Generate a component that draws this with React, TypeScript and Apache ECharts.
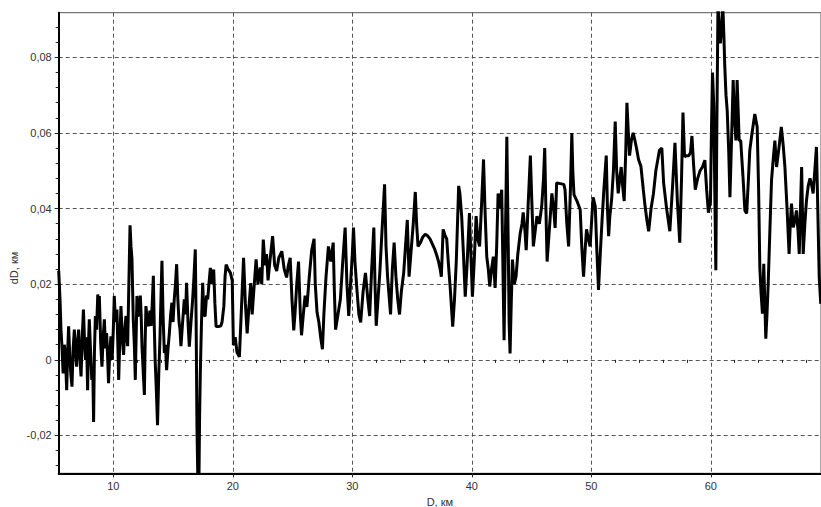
import React, { useEffect, useRef } from "react";
import * as echarts from "echarts";

// [D (km), dD (km)], segment by segment
const seg05to12: number[][] = [
  [5.43, 0.0236], [5.54, 0.016], [5.62, 0.008], [5.7, 0.0036], [5.8, -0.0036], [5.9, 0.004], [5.98, 0.0018],
  [6.1, -0.008], [6.18, 0.002], [6.26, 0.0089], [6.37, 0], [6.45, -0.004], [6.54, -0.0071], [6.64, 0.003],
  [6.74, 0.008], [6.83, 0.002], [6.93, -0.0018], [7.02, 0.005], [7.1, 0.008], [7.2, 0.001], [7.3, -0.0044],
  [7.4, 0.006], [7.5, 0.0133], [7.6, 0.004], [7.68, 0.0], [7.76, 0.006], [7.85, -0.008], [7.92, 0.004],
  [7.99, 0.0107], [8.1, 0.002], [8.2, -0.0053], [8.28, -0.002], [8.35, -0.0164], [8.42, 0.002], [8.5, 0.0116],
  [8.6, 0.008], [8.7, 0.0173], [8.77, 0.012], [8.83, 0.0169], [8.95, 0.004], [9.05, -0.0018], [9.15, 0.006],
  [9.25, 0.0107], [9.35, 0.003], [9.44, 0.0071], [9.52, 0.001], [9.6, -0.0062], [9.7, 0.002], [9.8, 0.0062],
  [9.9, 0.0], [10.0, 0.008], [10.08, 0.0169], [10.18, 0.01], [10.3, 0.0133], [10.38, 0.004], [10.45, -0.0053],
  [10.55, 0.006], [10.64, 0.0142], [10.75, 0.006], [10.86, 0.0013], [10.96, 0.008], [11.06, 0.0116],
  [11.14, 0.006], [11.2, 0.0036], [11.3, 0.02], [11.4, 0.0356], [11.48, 0.03], [11.56, 0.0267], [11.62, 0.018],
  [11.67, 0.0107], [11.76, 0.004], [11.84, -0.0053], [11.92, 0.008], [11.98, 0.0169], [12.08, 0.012],
  [12.18, 0.0116], [12.26, 0.017], [12.33, 0.012], [12.4, 0.0036],
];
const seg12to20: number[][] = [
  [12.5, -0.003], [12.6, -0.0093], [12.66, 0.004], [12.73, 0.0142], [12.85, 0.01], [12.96, 0.0089],
  [13.06, 0.013], [13.16, 0.009], [13.26, 0.015], [13.35, 0.0222], [13.42, 0.01], [13.5, 0], [13.6, -0.008],
  [13.7, -0.0173], [13.8, -0.004], [13.9, 0.0053], [14.0, 0.018], [14.07, 0.0262], [14.16, 0.012],
  [14.27, 0.0018], [14.36, 0.004], [14.46, -0.0027], [14.58, 0.003], [14.69, 0.0071], [14.8, 0.012],
  [14.9, 0.0151], [15.0, 0.01], [15.1, 0.016], [15.2, 0.02], [15.3, 0.0253], [15.4, 0.016], [15.5, 0.01],
  [15.58, 0.008], [15.66, 0.0036], [15.8, 0.01], [15.94, 0.016], [16.05, 0.012], [16.13, 0.0204],
  [16.25, 0.01], [16.36, 0.0035], [16.5, 0.01], [16.64, 0.016], [16.75, 0.022], [16.86, 0.0292],
  [16.93, 0.01], [17.0, -0.0177], [17.08, -0.033], [17.16, -0.034], [17.22, -0.015], [17.28, -0.0035],
  [17.38, 0.01], [17.48, 0.0204], [17.58, 0.012], [17.68, 0.0115], [17.8, 0.017], [17.9, 0.016], [18.0, 0.02],
  [18.12, 0.0243], [18.25, 0.02], [18.4, 0.0239], [18.5, 0.015], [18.6, 0.0088], [18.8, 0.0088], [19.0, 0.009],
  [19.1, 0.01], [19.25, 0.0142], [19.35, 0.022], [19.44, 0.0252], [19.6, 0.024], [19.8, 0.023], [19.95, 0.021],
];
const seg20to30: number[][] = [
  [20.05, 0.0039], [20.2, 0.006], [20.35, 0.002], [20.55, 0.0008], [20.7, 0.012], [20.9, 0.027], [21.05, 0.015],
  [21.2, 0.007], [21.35, 0.014], [21.5, 0.0203], [21.62, 0.012], [21.75, 0.018], [21.95, 0.0266], [22.1, 0.02],
  [22.3, 0.0244], [22.42, 0.02], [22.55, 0.0318], [22.7, 0.025], [22.82, 0.028], [22.95, 0.021], [23.1, 0.026],
  [23.33, 0.0327], [23.5, 0.025], [23.67, 0.0235], [23.85, 0.027], [24.1, 0.0287], [24.3, 0.024], [24.5, 0.0218],
  [24.65, 0.025], [24.8, 0.027], [24.95, 0.016], [25.1, 0.0078], [25.2, 0.012], [25.35, 0.02], [25.5, 0.026],
  [25.65, 0.012], [25.75, 0.0065], [25.9, 0.012], [26.05, 0.017], [26.2, 0.014], [26.4, 0.022], [26.6, 0.029],
  [26.8, 0.032], [26.9, 0.02], [27.05, 0.0125], [27.2, 0.01], [27.35, 0.006], [27.5, 0.0028], [27.62, 0.012],
  [27.8, 0.022], [28.0, 0.03], [28.2, 0.026], [28.4, 0.031], [28.5, 0.018], [28.6, 0.008], [28.8, 0.012],
  [29.0, 0.016], [29.2, 0.026], [29.4, 0.035], [29.55, 0.02], [29.7, 0.0116], [29.85, 0.02],
];
const seg30to40: number[][] = [
  [30.0, 0.028], [30.1, 0.035], [30.22, 0.026], [30.4, 0.018], [30.55, 0.012], [30.7, 0.0099], [30.9, 0.018],
  [31.1, 0.023], [31.3, 0.016], [31.45, 0.0116], [31.62, 0.024], [31.8, 0.035], [31.9, 0.02], [32.0, 0.009],
  [32.15, 0.016], [32.3, 0.023], [32.5, 0.035], [32.7, 0.0464], [32.82, 0.03], [32.95, 0.022], [33.05, 0.018],
  [33.2, 0.012], [33.35, 0.024], [33.5, 0.031], [33.65, 0.022], [33.8, 0.016], [33.95, 0.012], [34.1, 0.018],
  [34.3, 0.023], [34.45, 0.03], [34.6, 0.037], [34.75, 0.022], [34.9, 0.028], [35.1, 0.036], [35.27, 0.0444],
  [35.38, 0.036], [35.5, 0.03], [35.7, 0.031], [35.9, 0.0325], [36.1, 0.0332], [36.3, 0.0328], [36.5, 0.032],
  [36.7, 0.0306], [36.9, 0.0292], [37.05, 0.0278], [37.2, 0.0262], [37.35, 0.024], [37.45, 0.022],
  [37.6, 0.0345], [37.75, 0.033], [37.9, 0.032], [38.05, 0.025], [38.2, 0.0187], [38.4, 0.0088],
  [38.55, 0.016], [38.7, 0.026], [38.9, 0.046], [39.0, 0.044], [39.15, 0.038], [39.3, 0.028], [39.45, 0.0167],
  [39.6, 0.025], [39.8, 0.0388], [39.92, 0.028],
];
const seg40to50: number[][] = [
  [40.05, 0.0167], [40.2, 0.026], [40.36, 0.038], [40.5, 0.032], [40.65, 0.03], [40.8, 0.04], [40.98, 0.053],
  [41.1, 0.04], [41.25, 0.0273], [41.38, 0.024], [41.5, 0.0194], [41.65, 0.024], [41.8, 0.0273], [41.95, 0.019],
  [42.08, 0.03], [42.2, 0.044], [42.35, 0.04], [42.5, 0.045], [42.6, 0.025], [42.7, 0.0052], [42.8, 0.03],
  [42.93, 0.059], [43.05, 0.03], [43.12, 0.01], [43.2, 0.0017], [43.3, 0.015], [43.4, 0.0265], [43.55, 0.02],
  [43.7, 0.022], [43.85, 0.028], [44.05, 0.0335], [44.2, 0.036], [44.3, 0.039], [44.45, 0.034], [44.55, 0.029],
  [44.7, 0.04], [44.9, 0.054], [45.02, 0.042], [45.15, 0.03], [45.3, 0.034], [45.45, 0.038], [45.65, 0.036],
  [45.85, 0.0406], [46.0, 0.048], [46.1, 0.056], [46.2, 0.04], [46.3, 0.026], [46.5, 0.035], [46.7, 0.044],
  [46.85, 0.04], [46.97, 0.0349], [47.1, 0.0468], [47.4, 0.0466], [47.7, 0.0464], [47.8, 0.045], [47.95, 0.036],
  [48.1, 0.03], [48.25, 0.045], [48.37, 0.06], [48.45, 0.05], [48.55, 0.0437], [48.8, 0.042], [49.07, 0.0397],
  [49.2, 0.03], [49.35, 0.022], [49.5, 0.03], [49.6, 0.0345], [49.75, 0.032], [49.9, 0.03],
];
const seg50to60: number[][] = [
  [50.05, 0.038], [50.15, 0.043], [50.33, 0.0406], [50.45, 0.03], [50.6, 0.0185], [50.75, 0.028], [50.9, 0.037],
  [51.05, 0.045], [51.25, 0.054], [51.35, 0.04], [51.45, 0.0327], [51.55, 0.038], [51.7, 0.0424], [51.85, 0.05],
  [52.0, 0.063], [52.12, 0.05], [52.25, 0.044], [52.38, 0.048], [52.5, 0.051], [52.62, 0.046], [52.75, 0.042],
  [52.88, 0.055], [52.98, 0.068], [53.1, 0.06], [53.2, 0.054], [53.35, 0.058], [53.5, 0.06], [53.65, 0.058],
  [53.8, 0.0557], [53.95, 0.053], [54.15, 0.0512], [54.35, 0.045], [54.5, 0.0406], [54.65, 0.037], [54.8, 0.034],
  [55.0, 0.04], [55.2, 0.044], [55.4, 0.05], [55.7, 0.0554], [55.9, 0.056], [56.05, 0.0468], [56.3, 0.04],
  [56.57, 0.034], [56.8, 0.046], [57.0, 0.0574], [57.2, 0.042], [57.4, 0.031], [57.55, 0.048], [57.67, 0.0654],
  [57.8, 0.0537], [57.95, 0.054], [58.15, 0.054], [58.3, 0.0548], [58.42, 0.0592], [58.55, 0.052], [58.7, 0.045],
  [58.9, 0.048], [59.1, 0.05], [59.3, 0.051], [59.5, 0.0528], [59.65, 0.045], [59.8, 0.0389], [59.97, 0.042],
];
const seg60to69: number[][] = [
  [60.05, 0.06], [60.14, 0.076], [60.25, 0.067], [60.33, 0.045], [60.42, 0.0237], [60.5, 0.06], [60.6, 0.094],
  [60.7, 0.088], [60.8, 0.0837], [60.9, 0.088], [61.0, 0.094], [61.1, 0.085], [61.17, 0.0775], [61.27, 0.07],
  [61.37, 0.066], [61.5, 0.055], [61.6, 0.043], [61.75, 0.06], [61.87, 0.074], [61.97, 0.065], [62.1, 0.058],
  [62.2, 0.074], [62.3, 0.065], [62.37, 0.058], [62.5, 0.058], [62.7, 0.048], [62.85, 0.0395], [63.0, 0.0387],
  [63.15, 0.048], [63.26, 0.0554], [63.45, 0.06], [63.68, 0.065], [63.88, 0.0616], [64.0, 0.045], [64.1, 0.0245],
  [64.2, 0.018], [64.32, 0.0122], [64.43, 0.0254], [64.52, 0.015], [64.6, 0.0056], [64.7, 0.012], [64.8, 0.02],
  [64.95, 0.035], [65.08, 0.0475], [65.22, 0.053], [65.36, 0.058], [65.5, 0.051], [65.7, 0.056], [65.9, 0.0616],
  [66.05, 0.057], [66.2, 0.051], [66.38, 0.04], [66.55, 0.028], [66.65, 0.036], [66.75, 0.0413], [66.9, 0.035],
  [67.05, 0.037], [67.17, 0.0395], [67.3, 0.034], [67.4, 0.028], [67.5, 0.04], [67.6, 0.051], [67.73, 0.028],
  [67.87, 0.036], [68.0, 0.042], [68.15, 0.046], [68.3, 0.048], [68.45, 0.046], [68.56, 0.044], [68.7, 0.05],
  [68.84, 0.0563], [68.95, 0.04], [69.07, 0.0219], [69.2, 0.0148],
];

const xMajorTicks = [10, 20, 30, 40, 50, 60];
const xMinorTicks = [6, 8, 12, 14, 16, 18, 22, 24, 26, 28, 32, 34, 36, 38, 42, 44, 46, 48, 52, 54, 56, 58, 62, 64, 66, 68];
const yMajorTicks = [-0.02, 0, 0.02, 0.04, 0.06, 0.08];
const yMinorTicks = [
  -0.028, -0.024, -0.016, -0.012, -0.008, -0.004, 0.004, 0.008, 0.012, 0.016, 0.024, 0.028, 0.032, 0.036,
  0.044, 0.048, 0.052, 0.056, 0.064, 0.068, 0.072, 0.076, 0.084, 0.088,
];

const X_MIN = 5.43;
const X_MAX = 69.22;
const Y_MIN = -0.03;
const Y_MAX = 0.0918;

const fmtY = (v: number) => {
  const r = Math.round(v * 100) / 100;
  return r === 0 ? "0" : String(r).replace(".", ",");
};

export default function App() {
  const ref = useRef<HTMLDivElement>(null);
  useEffect(() => {
    if (!ref.current) return;
    const chart = echarts.init(ref.current, null, { renderer: "svg" });
    const profile = [...seg05to12, ...seg12to20, ...seg20to30, ...seg30to40, ...seg40to50, ...seg50to60, ...seg60to69];
    const font = "Liberation Sans";
    const textColor = "#333";
    chart.setOption({
      animation: false,
      backgroundColor: "#fff",
      grid: {
        left: 58.7,
        right: 0,
        top: 12.7,
        bottom: 33.7,
        show: true,
        borderColor: "#555",
        borderWidth: 1,
        containLabel: false,
        outerBoundsMode: "none",
      },
      xAxis: [
        {
          type: "value",
          min: X_MIN,
          max: X_MAX,
          position: "bottom",
          axisLine: { show: true, onZero: false, lineStyle: { color: "#000", width: 2 } },
          axisTick: { show: true, customValues: xMajorTicks, length: 4, lineStyle: { color: "#222" } },
          axisLabel: {
            show: true,
            customValues: xMajorTicks,
            color: textColor,
            fontSize: 11,
            fontFamily: font,
            margin: 7,
          },
          splitLine: { show: true, lineStyle: { color: "#555", type: [4, 3], width: 1 } },
          name: "D, км",
          nameLocation: "middle",
          nameGap: 23,
          nameTextStyle: { color: textColor, fontSize: 11, fontFamily: font },
        },
        {
          type: "value",
          min: X_MIN,
          max: X_MAX,
          position: "bottom",
          axisLine: { show: false },
          axisTick: { show: true, customValues: xMinorTicks, length: 3, lineStyle: { color: "#222" } },
          axisLabel: { show: false },
          splitLine: { show: false },
        },
      ],
      yAxis: [
        {
          type: "value",
          min: Y_MIN,
          max: Y_MAX,
          position: "left",
          axisLine: { show: true, onZero: false, lineStyle: { color: "#000", width: 2 } },
          axisTick: { show: true, customValues: yMajorTicks, length: 4, lineStyle: { color: "#222" } },
          axisLabel: {
            show: true,
            customValues: yMajorTicks,
            color: textColor,
            fontSize: 11,
            fontFamily: font,
            margin: 7,
            formatter: (v: number) => fmtY(v),
          },
          splitLine: { show: true, lineStyle: { color: "#555", type: [4, 3], width: 1 } },
        },
        {
          type: "value",
          min: Y_MIN,
          max: Y_MAX,
          position: "left",
          axisLine: { show: false },
          axisTick: { show: true, customValues: yMinorTicks, length: 3, lineStyle: { color: "#222" } },
          axisLabel: { show: false },
          splitLine: { show: false },
        },
      ],
      graphic: [
        {
          type: "text",
          x: 14,
          y: 268,
          rotation: Math.PI / 2,
          style: {
            text: "dD, км",
            fill: textColor,
            font: `11px "${font}"`,
            align: "center",
            verticalAlign: "middle",
          },
        },
      ],
      series: [
        {
          type: "line",
          xAxisIndex: 0,
          yAxisIndex: 0,
          data: profile,
          showSymbol: false,
          symbol: "none",
          clip: true,
          lineStyle: { color: "#000", width: 3 },
        },
      ],
    });
    return () => chart.dispose();
  }, []);
  return (
    <div
      ref={ref}
      style={{ position: "fixed", left: 0, top: 0, width: 821, height: 507, background: "#fff" }}
    />
  );
}
